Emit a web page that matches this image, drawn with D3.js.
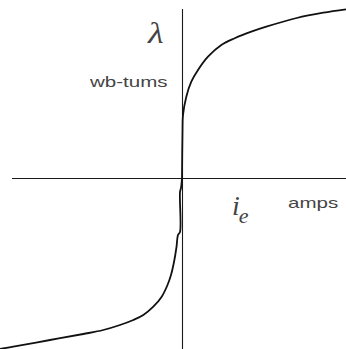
<!DOCTYPE html>
<html>
<head>
<meta charset="utf-8">
<script src="https://cdn.jsdelivr.net/npm/d3@7"></script>
<style>
  html, body { margin: 0; padding: 0; background: #fff; }
  svg { display: block; }
</style>
</head>
<body>
<svg id="chart" width="346" height="349"></svg>
<script>
// Magnetization curve: flux linkage (wb-turns) vs. excitation current (amps)
const upperCurrent = [0, 0.005, 0.01, 0.043, 0.093, 0.16, 0.26, 0.393, 0.527, 0.693, 0.843, 1.147, 1.413, 1.64];
const upperFlux    = [0, 0.46, 0.63, 0.813, 0.963, 1.08, 1.213, 1.33, 1.397, 1.463, 1.513, 1.60, 1.653, 1.687];

const lowerCurrent = [0, -0.01, -0.02, -0.02, -0.04, -0.055, -0.08, -0.11, -0.145, -0.203, -0.287, -0.387, -0.487, -0.62, -0.787, -0.987, -1.32, -1.687, -1.82];
const lowerFlux    = [0, -0.1, -0.14, -0.54, -0.57, -0.69, -0.84, -0.97, -1.07, -1.187, -1.287, -1.37, -1.42, -1.47, -1.52, -1.56, -1.62, -1.687, -1.71];

const currentAxisExtent = [-1.70, 1.64];
const fluxAxisExtent = [1.69, -1.71];

const svg = d3.select("#chart");
const W = 346, H = 349;

const x = d3.scaleLinear().domain([-1.82, 1.64]).range([0, W]);
const y = d3.scaleLinear().domain([1.78, -1.71]).range([0, H]);

// axes through the origin
svg.append("line")
  .attr("x1", x(currentAxisExtent[0])).attr("x2", x(currentAxisExtent[1]))
  .attr("y1", y(0) + 0.5).attr("y2", y(0) + 0.5)
  .attr("stroke", "#1a1a1a").attr("stroke-width", 1.1);

svg.append("line")
  .attr("x1", x(0) + 0.5).attr("x2", x(0) + 0.5)
  .attr("y1", y(fluxAxisExtent[0])).attr("y2", y(fluxAxisExtent[1]))
  .attr("stroke", "#1a1a1a").attr("stroke-width", 1.1);

const line = d3.line()
  .x(d => x(d[0]))
  .y(d => y(d[1]))
  .curve(d3.curveCatmullRom.alpha(0.5));

const upper = upperCurrent.map((c, i) => [c, upperFlux[i]]);
const lower = lowerCurrent.map((c, i) => [c, lowerFlux[i]]);

[upper, lower].forEach(pts => {
  svg.append("path")
    .datum(pts)
    .attr("d", line)
    .attr("fill", "none")
    .attr("stroke", "#111")
    .attr("stroke-width", 1.8)
    .attr("stroke-linejoin", "round");
});

// labels
svg.append("text")
  .attr("transform", "translate(148,43) scale(1.2,1)")
  .attr("font-family", "Liberation Serif, serif")
  .attr("font-style", "italic")
  .attr("font-size", 30)
  .attr("fill", "#444")
  .text("λ");

svg.append("text")
  .attr("transform", "translate(90,87) scale(1.37,1)")
  .attr("font-family", "Liberation Sans, Arial, sans-serif")
  .attr("font-size", 15)
  .attr("fill", "#444")
  .text("wb-tums");

svg.append("text")
  .attr("transform", "translate(288,208) scale(1.37,1)")
  .attr("font-family", "Liberation Sans, Arial, sans-serif")
  .attr("font-size", 15)
  .attr("fill", "#444")
  .text("amps");

const ie = svg.append("text")
  .attr("transform", "translate(232,215)")
  .attr("font-family", "Liberation Serif, serif")
  .attr("font-style", "italic")
  .attr("font-size", 28)
  .attr("fill", "#444");
ie.append("tspan").text("i");
ie.append("tspan").attr("font-size", 22).attr("dy", 8).attr("dx", -1).text("e");
</script>
</body>
</html>
